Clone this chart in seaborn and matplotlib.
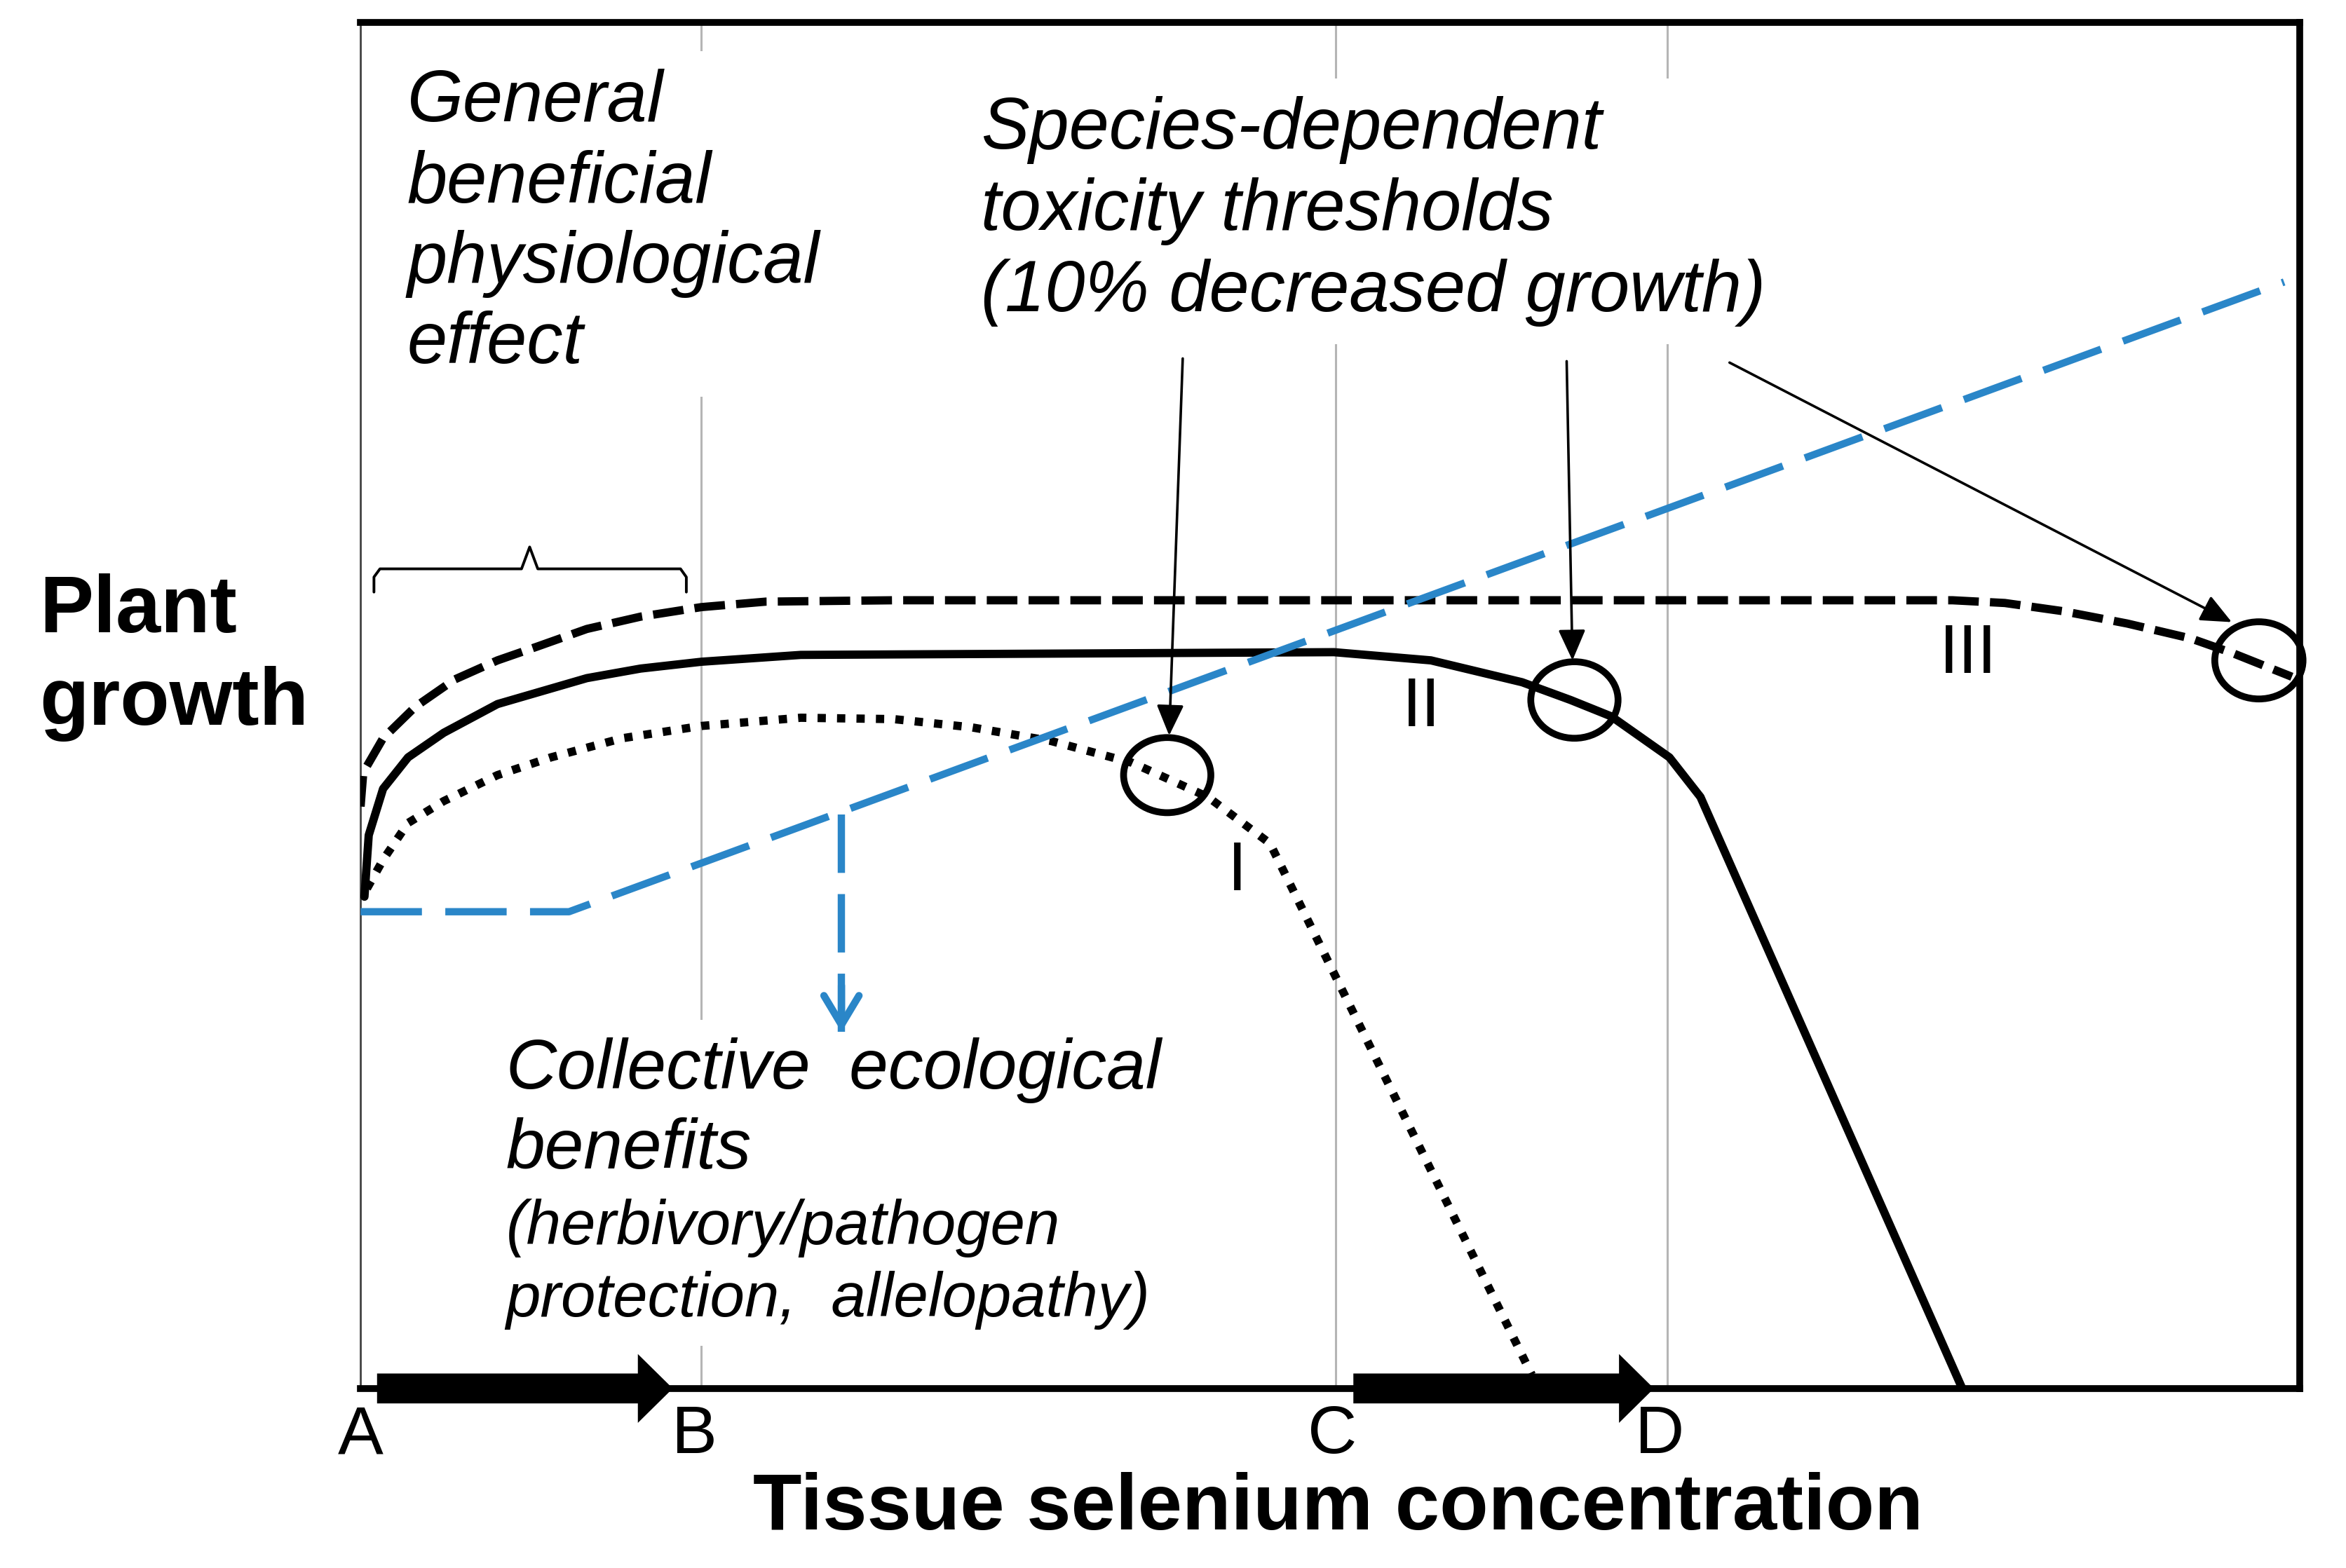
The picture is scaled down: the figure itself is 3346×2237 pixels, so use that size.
import matplotlib
matplotlib.use('Agg')
import matplotlib.pyplot as plt
from matplotlib.patches import Ellipse, FancyArrow
import seaborn as sns

# x axis: tissue Se concentration, 0-100 (arbitrary units)
# y axis: plant growth, 0-100 (arbitrary units)

# concentration thresholds A-D
threshold_x = [0, 17.55, 50.3, 67.4]
letter_x = [0.0, 17.2, 50.1, 67.0]
letter_labels = ['A', 'B', 'C', 'D']

# species III - dashed, most tolerant
x_iii = [0, 0.14, 1.16, 2.82, 4.85, 7.06, 9.09, 11.67, 14.44, 17.58, 20.9, 27.5,
         50.0, 82.1, 84.8, 87.8, 91.1, 94.4, 96.6, 99.6]
y_iii = [42.6, 45.1, 47.6, 49.9, 51.9, 53.3, 54.3, 55.6, 56.5, 57.2, 57.6, 57.7,
         57.7, 57.7, 57.5, 56.9, 56.0, 54.9, 53.8, 52.1]

# species II - solid
x_ii = [0.2, 0.42, 1.16, 2.45, 4.29, 7.06, 11.67, 14.44, 17.58, 22.7, 50.2,
        55.2, 59.9, 62.4, 64.5, 67.5, 69.1, 82.6]
y_ii = [36.0, 40.5, 43.9, 46.2, 48.0, 50.1, 52.0, 52.7, 53.2, 53.7, 53.9,
        53.3, 51.7, 50.4, 49.2, 46.2, 43.3, 0.0]

# species I - dotted, most sensitive
x_i = [0.33, 1.16, 2.45, 4.29, 7.06, 9.82, 13.5, 17.58, 22.7, 27.5, 31.5,
       35.6, 39.8, 43.7, 46.9, 60.4]
y_i = [36.6, 38.7, 41.4, 43.0, 44.9, 46.2, 47.6, 48.5, 49.1, 49.0, 48.4,
       47.4, 45.8, 43.3, 39.9, 1.0]

# collective ecological benefit (blue dashed)
x_eco = [0, 10.75, 99.2]
y_eco = [34.9, 34.9, 81.0]

# toxicity threshold markers (ellipses) and the arrows pointing at them
circle_x = [41.6, 62.6, 97.9]
circle_y = [44.9, 50.4, 53.3]
circle_w = [4.5, 4.5, 4.55]
circle_h = [5.5, 5.6, 5.65]
arrow_from = [(42.4, 75.4), (62.2, 75.2), (70.6, 75.1)]
arrow_to = [(41.7, 47.8), (62.5, 53.3), (96.5, 56.1)]

numeral_x = [45.2, 54.7, 82.9]
numeral_y = [37.8, 49.8, 53.7]
numeral_labels = ['I', 'II', 'III']

# brace over the beneficial range
brace_x = [0.69, 0.69, 1.0, 8.3, 8.72, 9.14, 16.5, 16.8, 16.8]
brace_y = [58.3, 59.4, 60.0, 60.0, 61.6, 60.0, 60.0, 59.4, 58.3]

# blue arrow from the benefit line down to its caption
eco_arrow_x = 24.8
eco_arrow_y = [42.0, 26.1]

# thick arrows along the concentration axis (start, end)
range_arrows = [(0.85, 16.1), (51.2, 66.7)]

blue = '#2A86C8'
grey = '#B5B5B5'

sns.set_theme(style='white')
plt.rcParams['font.family'] = ['Liberation Sans', 'DejaVu Sans']
plt.rcParams['text.color'] = 'black'
plt.rcParams['axes.labelcolor'] = 'black'
plt.rcParams['xtick.color'] = 'black'

fig = plt.figure(figsize=(33.46, 22.37), dpi=100)
ax = fig.add_axes([241 / 1568, 1 - 928 / 1048, 1296 / 1568, 913 / 1048])
ax.set_xlim(0, 100)
ax.set_ylim(0, 100)

# threshold lines
ax.vlines(threshold_x, 0, 100, color=grey, lw=2.2, zorder=1)

# growth curves
sns.lineplot(x=x_iii, y=y_iii, ax=ax, color='black', linewidth=8.5, estimator=None,
             sort=False, linestyle=(0, (3.7, 1.35)), zorder=3)
sns.lineplot(x=x_ii, y=y_ii, ax=ax, color='black', linewidth=8.5, estimator=None,
             sort=False, zorder=3)
sns.lineplot(x=x_i, y=y_i, ax=ax, color='black', linewidth=8.5, estimator=None,
             sort=False, linestyle=(0, (1.0, 1.35)), zorder=3)
sns.lineplot(x=x_eco, y=y_eco, ax=ax, color=blue, linewidth=7.5, estimator=None,
             sort=False, linestyle=(0, (8.4, 3.2)), zorder=3)

# blue dashed arrow
ax.plot([eco_arrow_x, eco_arrow_x], eco_arrow_y, color=blue, linewidth=7.5,
        linestyle=(0, (8.0, 2.9)), zorder=5)
ax.annotate('', xy=(eco_arrow_x, eco_arrow_y[1]),
            xytext=(eco_arrow_x, eco_arrow_y[1] + 3.4),
            arrowprops=dict(arrowstyle='->,head_length=0.75,head_width=0.45',
                            color=blue, lw=7.5, mutation_scale=40,
                            shrinkA=0, shrinkB=0), zorder=5)

# threshold ellipses + pointer arrows
for cx, cy, w, h in zip(circle_x, circle_y, circle_w, circle_h):
    ax.add_patch(Ellipse((cx, cy), w, h, fill=False, ec='black', lw=7,
                         zorder=4, clip_on=False))
for start, tip in zip(arrow_from, arrow_to):
    ax.annotate('', xy=tip, xytext=start,
                arrowprops=dict(arrowstyle='-|>,head_length=0.45,head_width=0.2',
                                color='black', lw=2.6, mutation_scale=60,
                                shrinkA=0, shrinkB=0), zorder=5)

for x, y, lab in zip(numeral_x, numeral_y, numeral_labels):
    ax.text(x, y, lab, fontsize=71, ha='center', va='center', zorder=4)

ax.plot(brace_x, brace_y, color='black', lw=2.8, zorder=3)

# thick range arrows on the x axis
for x0, x1 in range_arrows:
    ax.add_patch(FancyArrow(x0, 0, x1 - x0, 0, width=2.19, head_width=5.04,
                            head_length=1.8, length_includes_head=True,
                            color='black', lw=0, zorder=6, clip_on=False))

# annotations
box = dict(boxstyle='square,pad=0.25', fc='white', ec='none')
ax.text(2.4, 96.6, 'General\nbeneficial\nphysiological\neffect', fontsize=74,
        style='italic', ha='left', va='top', linespacing=1.24, bbox=box, zorder=2)
ax.text(32.0, 94.6, 'Species-dependent\ntoxicity thresholds\n(10% decreased growth)',
        fontsize=74, style='italic', ha='left', va='top', linespacing=1.25,
        bbox=box, zorder=2)
ax.text(7.5, 25.7, 'Collective  ecological\nbenefits', fontsize=72,
        style='italic', ha='left', va='top', linespacing=1.28, bbox=box, zorder=2)
ax.text(7.5, 13.9, '(herbivory/pathogen\nprotection,  allelopathy)', fontsize=64,
        style='italic', ha='left', va='top', linespacing=1.3, bbox=box, zorder=2)

# axes styling
ax.set_xticks(letter_x)
ax.set_xticklabels(letter_labels, fontsize=70)
ax.set_yticks([])
ax.tick_params(axis='x', length=0, pad=16)
for side in ['top', 'right', 'bottom']:
    ax.spines[side].set_linewidth(7)
    ax.spines[side].set_color('black')
ax.spines['left'].set_linewidth(2)
ax.spines['left'].set_color('#444444')

ax.set_xlabel('Tissue selenium concentration', fontsize=82, fontweight='bold', va='top')
ax.xaxis.set_label_coords(0.504, -0.0613)
ax.set_ylabel('Plant\ngrowth', fontsize=83, fontweight='bold', rotation=0,
              ha='left', va='top', linespacing=1.28)
ax.yaxis.set_label_coords(-0.1656, 0.5965)

fig.savefig('out.png', dpi=100)
